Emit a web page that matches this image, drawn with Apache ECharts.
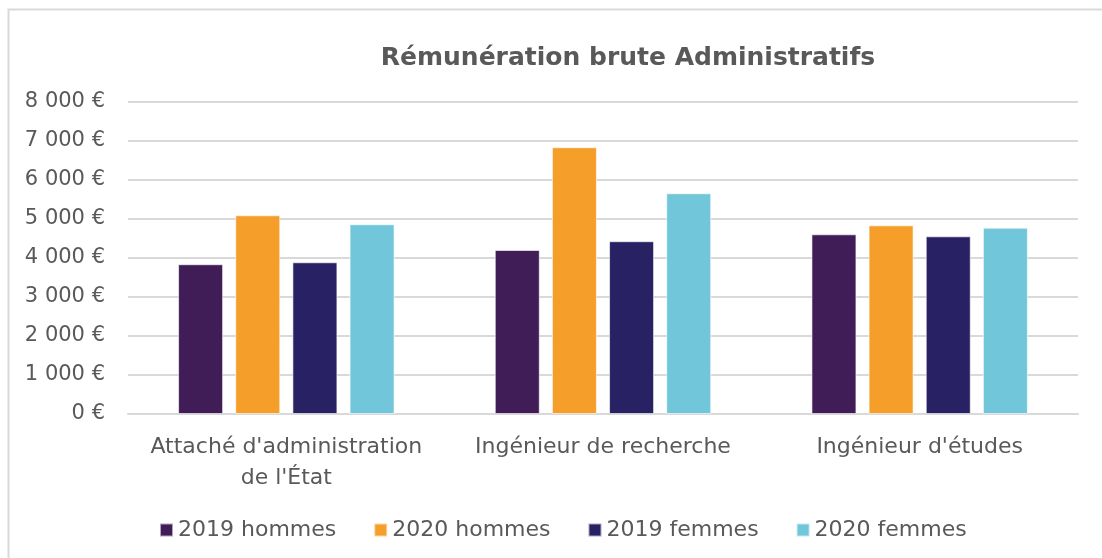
<!DOCTYPE html>
<html>
<head>
<meta charset="utf-8">
<script src="https://cdn.jsdelivr.net/npm/echarts@6/dist/echarts.min.js"></script>
<style>
html,body{margin:0;padding:0;background:#fff}
#main{width:1102px;height:558px}
</style>
</head>
<body>
<div id="main"></div>
<script>
var categories = ["Attaché d'administration\nde l'État", "Ingénieur de recherche", "Ingénieur d'études"]
var hommes2019 = [3840, 4205, 4607]
var hommes2020 = [5095, 6840, 4838]
var femmes2019 = [3890, 4430, 4556]
var femmes2020 = [4865, 5660, 4777]
var seriesNames = ['2019 hommes', '2020 hommes', '2019 femmes', '2020 femmes']
var colors = ['#401d57', '#f59e2a', '#282163', '#72c6da']

var font = 'DejaVu Sans'
var txt = '#595959'

var chart = echarts.init(document.getElementById('main'))

function fmt(v){
	var s = String(v)
	if(s.length > 3){
		s = s.slice(0, s.length-3) + ' ' + s.slice(s.length-3)
	}
	return s + ' €'
}

function bar(name, data, i){
	return {
		name: name,
		type: 'bar',
		data: data,
		barWidth: 45,
		barGap: '27%',
		itemStyle: { color: colors[i], borderColor: 'rgba(255,255,255,0.6)', borderWidth: 1 }
	}
}

chart.setOption({
	animation: false,
	graphic: [{
		type: 'rect',
		shape: { x: 8.5, y: 9.5, width: 1200, height: 600 },
		style: { fill: 'none', stroke: '#d9d9d9', lineWidth: 2 }
	}],
	title: {
		text: 'Rémunération brute Administratifs',
		left: 623,
		top: 41,
		textAlign: 'center',
		textStyle: { fontFamily: font, fontSize: 25, fontWeight: 'bold', color: txt }
	},
	legend: {
		data: seriesNames,
		left: 154,
		top: 514,
		itemWidth: 13,
		itemHeight: 13,
		itemGap: 37,
		icon: 'rect',
		textStyle: { fontFamily: font, fontSize: 22, color: txt }
	},
	grid: { left: 128, right: 24, top: 102, bottom: 144 },
	xAxis: {
		type: 'category',
		data: categories,
		axisLine: { lineStyle: { color: '#d9d9d9', width: 2 } },
		axisTick: { show: false },
		axisLabel: { fontFamily: font, fontSize: 22, color: txt, margin: 18, lineHeight: 31, interval: 0 }
	},
	yAxis: {
		type: 'value',
		min: 0,
		max: 8000,
		interval: 1000,
		axisLine: { show: false },
		axisTick: { show: false },
		splitLine: { lineStyle: { color: '#d9d9d9', width: 2 } },
		axisLabel: { fontFamily: font, fontSize: 21, color: txt, margin: 23, formatter: fmt }
	},
	series: [
		bar(seriesNames[0], hommes2019, 0),
		bar(seriesNames[1], hommes2020, 1),
		bar(seriesNames[2], femmes2019, 2),
		bar(seriesNames[3], femmes2020, 3)
	]
})
</script>
</body>
</html>
